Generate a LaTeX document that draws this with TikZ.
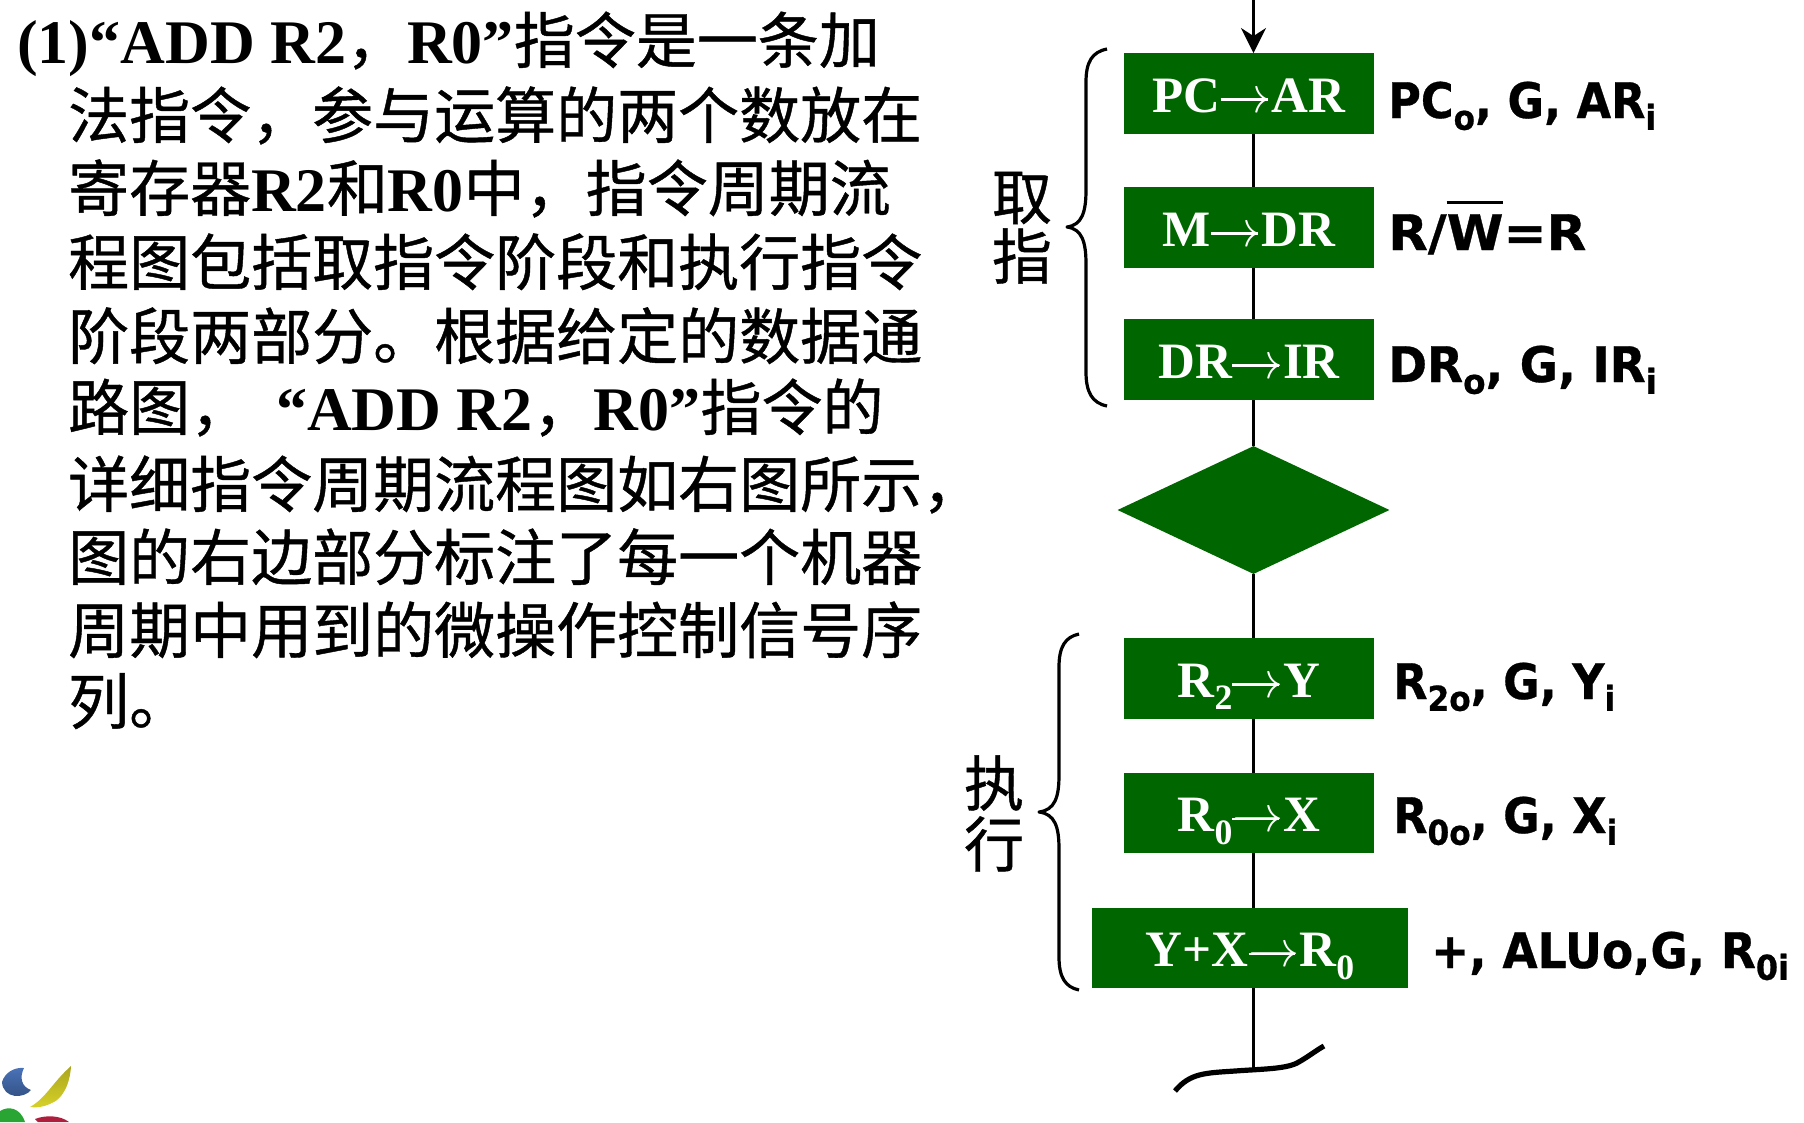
\documentclass[tikz,border=0pt]{standalone}
\usepackage{fontspec}
\setmainfont{Liberation Serif}
\newfontfamily\cjk{Noto Sans CJK SC}[FakeBold=0.7]
\newfontfamily\lab{DejaVu Sans}[BoldFeatures={FakeStretch=0.91,FakeBold=0.6}]
\usetikzlibrary{arrows.meta,shapes.geometric}
\definecolor{boxgreen}{RGB}{0,102,0}
\definecolor{logoblue}{RGB}{75,115,185}
\definecolor{logoblueb}{RGB}{50,80,130}
\definecolor{logoyellow}{RGB}{215,210,40}
\definecolor{logoyellowb}{RGB}{170,165,30}
\definecolor{logogreen}{RGB}{40,165,50}
\definecolor{logored}{RGB}{175,30,60}
\newcommand{\C}[1]{{\mdseries\cjk #1}}
\newcommand{\La}[1]{{\fontsize{62}{62}\selectfont #1}}
\newcommand{\sbs}[1]{\raisebox{-0.24em}{\fontsize{0.7em}{0.7em}\selectfont #1}}
\newcommand{\Ra}{\rlap{\raisebox{0.225em}{\rule{0.92em}{0.05em}}}\resizebox{1em}{!}{$\rightarrow$}}
\newsavebox{\ovlbox}
\newcommand{\ovl}[1]{\sbox{\ovlbox}{#1}\rlap{\raisebox{0.93em}{\rule{\wd\ovlbox}{0.08em}}}#1}
\tikzset{
 x=1pt,y=-1pt,
 body/.style={anchor=base west,inner sep=0pt,font=\fontsize{61}{61}\selectfont\bfseries},
 fbox/.style={fill=boxgreen,text=white,minimum height=80.5pt,inner sep=0pt,text height=59pt,text depth=21.5pt,font=\fontsize{51}{51}\selectfont\bfseries,anchor=center},
 sig/.style={anchor=base west,inner sep=0pt,font=\fontsize{49}{49}\selectfont\lab\bfseries},
 big/.style={anchor=center,inner sep=0pt,font=\fontsize{60}{60}\selectfont\cjk},
 flow/.style={line width=3pt,black},
 brace/.style={line width=3.2pt,black,line join=round},
}
\begin{document}
\begin{tikzpicture}
\useasboundingbox (0,0) rectangle (1804,1122);
\node[body] (t1) at (17,63) {\La{(1)“ADD R2}\C{，}\La{R0”}\C{指令是一条加}};
\node[body] (t2) at (68,138) {\C{法指令，参与运算的两个数放在}};
\node[body] (t3) at (68,211) {\C{寄存器}\La{R2}\C{和}\La{R0}\C{中，指令周期流}};
\node[body] (t4) at (68,285) {\C{程图包括取指令阶段和执行指令}};
\node[body] (t5) at (68,359) {\C{阶段两部分。根据给定的数据通}};
\node[body] (t6) at (68,430) {\C{路图，}\hspace{25pt}\La{“ADD R2}\C{，}\La{R0”}\C{指令的}};
\node[body] (t7) at (68,507) {\C{详细指令周期流程图如右图所示，}};
\node[body] (t8) at (68,580) {\C{图的右边部分标注了每一个机器}};
\node[body] (t9) at (68,653) {\C{周期中用到的微操作控制信号序}};
\node[body] (t10) at (68,724) {\C{列。}};

\coordinate (top) at (1253.5,0);
\node[fbox,minimum width=250pt] (b1) at (1249,93.5) {PC\Ra AR};
\node[fbox,minimum width=250pt] (b2) at (1249,227.5) {M\Ra DR};
\node[fbox,minimum width=250pt] (b3) at (1249,359.5) {DR\Ra IR};
\node[diamond,fill=boxgreen,inner sep=0pt,minimum width=272pt,minimum height=128pt,aspect=2.125] (d) at (1253.5,510) {};
\node[fbox,minimum width=250pt] (b4) at (1249,678.5) {R\sbs{2}\Ra Y};
\node[fbox,minimum width=250pt] (b5) at (1249,813) {R\sbs{0}\Ra X};
\node[fbox,minimum width=316pt] (b6) at (1250,948) {Y+X\Ra R\sbs{0}};
\coordinate (end) at (1253.5,1068);

\draw[flow,-{Stealth[length=25pt,width=25pt,inset=8pt]}] (top) -- (b1.north -| top);
\draw[flow] (b1.south -| top) -- (b2.north -| top);
\draw[flow] (b2.south -| top) -- (b3.north -| top);
\draw[flow] (b3.south -| top) -- (d.north);
\draw[flow] (d.south) -- (b4.north -| top);
\draw[flow] (b4.south -| top) -- (b5.north -| top);
\draw[flow] (b5.south -| top) -- (b6.north -| top);
\draw[flow] (b6.south -| top) -- (end);
\draw[line width=5.2pt,black] (1175,1091) .. controls (1190,1073) and (1205,1073) .. (1235,1071) .. controls (1262,1069) and (1285,1069) .. (1297,1063) .. controls (1308,1057) and (1315,1051) .. (1324,1046);

\draw[brace] (1107,49) .. controls (1092,52) and (1086,62) .. (1086,82) -- (1086,190) .. controls (1086,212) and (1082,225) .. (1067,227) .. controls (1082,229) and (1086,242) .. (1086,264) -- (1086,372) .. controls (1086,392) and (1092,403) .. (1107,406);
\draw[brace] (1079,634) .. controls (1065,637) and (1059,647) .. (1059,667) -- (1059,775) .. controls (1059,797) and (1055,810) .. (1039,812) .. controls (1055,814) and (1059,827) .. (1059,849) -- (1059,957) .. controls (1059,977) and (1065,987) .. (1079,990);

\node[big] (q1) at (1022,198) {取};
\node[big] (q2) at (1022,256) {指};
\node[big] (x1) at (994,783) {执};
\node[big] (x2) at (994,844) {行};

\node[sig] (s1) at (1388,118) {PC\sbs{o}, G, AR\sbs{i}};
\node[sig] (s2) at (1388,250) {\scalebox{1.155}[1]{R/\ovl{W}=R}};
\node[sig] (s3) at (1388,382) {\scalebox{1.05}[1]{DR\sbs{o}, G, IR\sbs{i}}};
\node[sig] (s4) at (1393,699) {R\sbs{2o}, G, Y\sbs{i}};
\node[sig] (s5) at (1393,833) {R\sbs{0o}, G, X\sbs{i}};
\node[sig] (s6) at (1431,968) {\scalebox{1.02}[1]{+, ALUo,G, R\sbs{0i}}};

\shade[top color=logoblue,bottom color=logoblueb] (2,1082) .. controls (5,1072) and (15,1067) .. (24,1068) .. controls (19,1078) and (22,1087) .. (31,1090) .. controls (24,1099) and (3,1099) .. (2,1082) -- cycle;
\shade[top color=logoyellowb,bottom color=logoyellow] (30,1107) .. controls (46,1098) and (52,1083) .. (71,1066) .. controls (70,1085) and (62,1099) .. (52,1103) .. controls (44,1107) and (36,1108) .. (30,1107) -- cycle;
\fill[logogreen] (0,1122) -- (0,1111) .. controls (8,1106) and (20,1107) .. (25,1122) -- cycle;
\fill[logored] (35,1119) .. controls (45,1115) and (60,1115) .. (69,1122) -- (38,1122) -- cycle;
\end{tikzpicture}
\end{document}
